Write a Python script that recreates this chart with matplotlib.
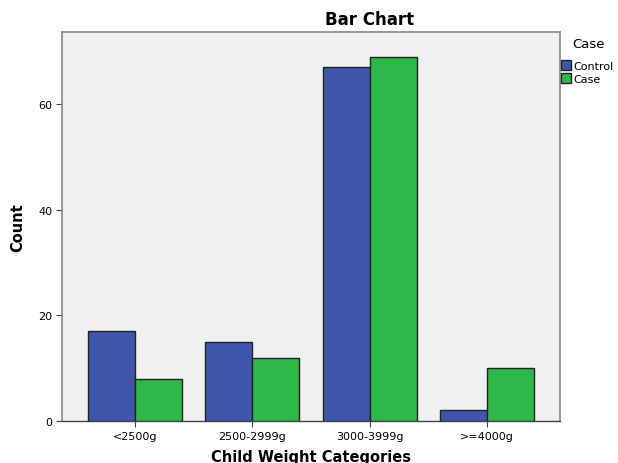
import numpy as np
import matplotlib
matplotlib.use('Agg')
import matplotlib.pyplot as plt
from matplotlib.patches import Patch

categories = ["<2500g", "2500-2999g", "3000-3999g", ">=4000g"]
control = [17, 15, 67, 2]
case = [8, 12, 69, 10]
series_names = ["Control", "Case"]

blue = "#3D56AA"
green = "#2DB84A"

fig = plt.figure(figsize=(6.18, 4.64), dpi=100)
ax = fig.add_axes([62/618, 42/464, (560-62)/618, (422-33)/464])
ax.set_facecolor("#F0F0F0")

x = np.arange(len(categories))
w = 0.4
ax.bar(x - w/2, control, w, color=blue, edgecolor="#222222", linewidth=1.0, zorder=3)
ax.bar(x + w/2, case, w, color=green, edgecolor="#222222", linewidth=1.0, zorder=3)

ax.set_xlim(-0.62, 3.62)
ax.set_ylim(0, 73.7)
ax.set_yticks([0, 20, 40, 60])
ax.set_xticks(x)
ax.set_xticklabels(categories)
ax.tick_params(axis='both', labelsize=8, length=4, width=0.8, color="#444444", pad=3)

for s in ["top", "right", "left"]:
    ax.spines[s].set_color("#888888")
    ax.spines[s].set_linewidth(1.2)
ax.spines["bottom"].set_color("#444444")
ax.spines["bottom"].set_linewidth(1.0)

fig.text(370/618, 1 - 20/464, "Bar Chart", ha="center", va="center", fontsize=12, fontweight="bold")
fig.text(18/618, 1 - 228/464, "Count", ha="center", va="center", rotation=90, fontsize=10.5, fontweight="bold")
fig.text(311/618, 1 - 458/464, "Child Weight Categories", ha="center", va="center", fontsize=10.5, fontweight="bold")

# legend: title drawn as its own text, entries below
fig.text(572/618, 1 - 45/464, "Case", ha="left", va="center", fontsize=9.5)
handles = [Patch(facecolor=blue, edgecolor="#222222"), Patch(facecolor=green, edgecolor="#222222")]
fig.legend(handles, series_names, loc="upper left",
           bbox_to_anchor=(559/618, 1 - 59/464), frameon=False, fontsize=8,
           handlelength=0.85, handleheight=1.0, handletextpad=0.2,
           labelspacing=0.2, borderpad=0.2, borderaxespad=0)

fig.savefig("out.png", dpi=100)
